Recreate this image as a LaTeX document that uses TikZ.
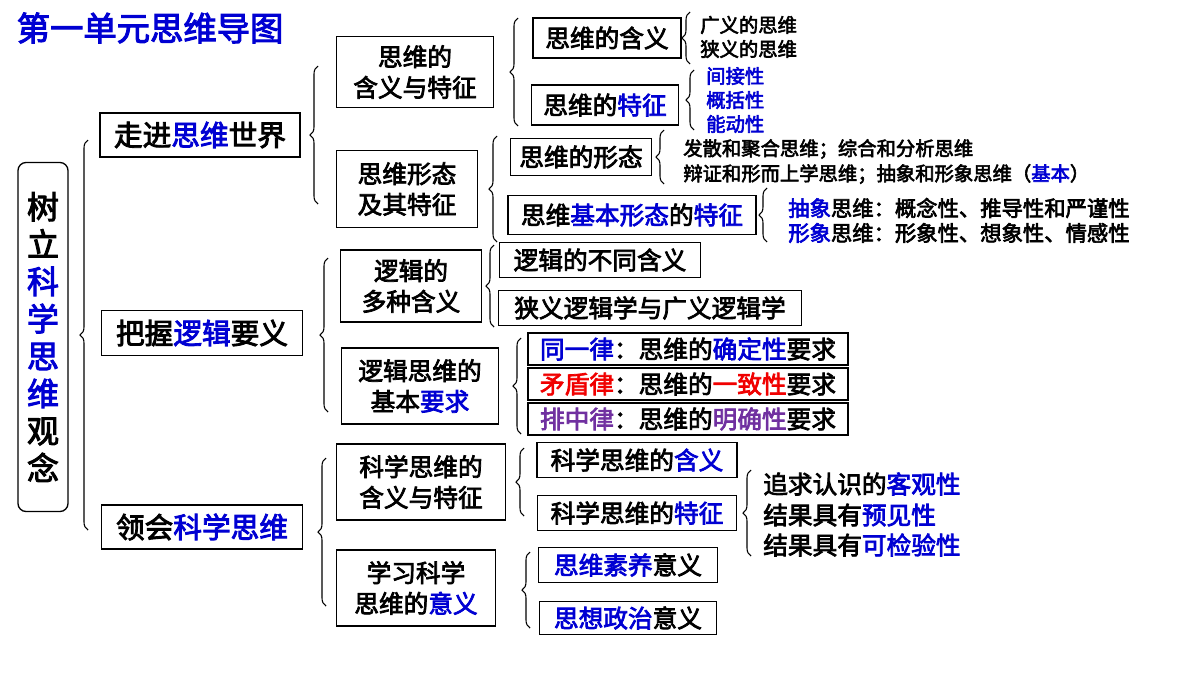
\documentclass[tikz,border=0pt]{standalone}
\usepackage{fontspec}
\setmainfont{Noto Sans CJK SC}[FakeBold=3]
\usetikzlibrary{decorations.pathreplacing}
\definecolor{bl}{RGB}{0,0,210}
\definecolor{pu}{RGB}{112,48,160}
\definecolor{rd}{RGB}{240,0,0}
\newcommand{\B}[1]{\textcolor{bl}{#1}}
\newcommand{\bx}[6]{\node[box,minimum width=#4,minimum height=#5] (#1) at (#2,#3) {#6};}
\newcommand{\brc}[3]{\draw[brc] (#1,#3) -- (#1,#2);}
\begin{document}
\begin{tikzpicture}[x=0.75pt,y=-0.75pt,
  box/.style={draw,line width=1pt,inner sep=0pt,align=center,font=\fontsize{18.5}{23}\selectfont},
  big/.style={font=\fontsize{21.5}{24}\selectfont},
  brc/.style={line width=0.8pt,decorate,decoration={brace,amplitude=6pt}},
  txt/.style={anchor=west,inner sep=0pt}]
\useasboundingbox (0,0) rectangle (1200,675);
\node[anchor=west,text=bl,font=\fontsize{25}{28}\selectfont] (title) at (12,28) {第一单元思维导图};
\node[draw,line width=1pt,rounded corners=6pt,minimum width=50*0.75pt,minimum height=349*0.75pt,inner sep=0pt,align=center,font=\fontsize{24}{28}\selectfont] (root) at (43,337) {树\\立\\\B{科}\\\B{学}\\\B{思}\\\B{维}\\观\\念};
% level 1
\node[box,big,minimum width=150pt,minimum height=33pt] (a) at (200,135) {走进\B{思维}世界};
\node[box,big,minimum width=151pt,minimum height=34pt] (b) at (202,333) {把握\B{逻辑}要义};
\node[box,big,minimum width=151pt,minimum height=33pt] (c) at (202,527) {领会\B{科学思维}};
\brc{88}{140}{530}
% group 1
\bx{a1}{415}{72}{118pt}{53pt}{思维的\\含义与特征}
\bx{a2}{407}{189}{106pt}{58pt}{思维形态\\及其特征}
\brc{318}{66}{204}
\bx{a11}{607}{38}{111pt}{30pt}{思维的含义}
\bx{a12}{605}{105}{110pt}{30pt}{思维的\B{特征}}
\brc{518}{18}{126}
\begin{scope}[every node/.style={txt,font=\fontsize{14.5}{16}\selectfont}]
\node (t1) at (700,25) {广义的思维};
\node (t2) at (700,49) {狭义的思维};
\node[text=bl] (t3) at (706,76) {间接性};
\node[text=bl] (t4) at (706,100) {概括性};
\node[text=bl] (t5) at (706,124) {能动性};
\node (t6) at (683,149) {发散和聚合思维；综合和分析思维};
\node (t7) at (683,174) {辩证和形而上学思维；抽象和形象思维（\B{基本}）};
\end{scope}
\brc{690}{12}{64}
\brc{694}{70}{130}
\bx{a21}{581}{157}{106pt}{28pt}{思维的形态}
\bx{a22}{632}{215}{186pt}{29pt}{思维\B{基本形态}的\B{特征}}
\brc{497}{136}{242}
\brc{664}{130}{184}
\begin{scope}[every node/.style={txt,font=\fontsize{16}{18}\selectfont}]
\node (t8) at (788,208) {\B{抽象}思维：概念性、推导性和严谨性};
\node (t9) at (788,233) {\B{形象}思维：形象性、想象性、情感性};
\end{scope}
\brc{767}{188}{242}
% group 2
\bx{b1}{411}{286}{106pt}{54pt}{逻辑的\\多种含义}
\bx{b2}{420}{386}{118pt}{57pt}{逻辑思维的\\基本\B{要求}}
\brc{328}{258}{412}
\bx{b11}{600}{260}{151pt}{26pt}{逻辑的不同含义}
\bx{b12}{650}{308}{227pt}{26pt}{狭义逻辑学与广义逻辑学}
\brc{494}{245}{327}
\bx{b21}{688}{349}{240pt}{24pt}{\B{同一律}：思维的\B{确定性}要求}
\bx{b22}{688}{384}{240pt}{24pt}{\textcolor{rd}{矛盾律}：思维的\textcolor{rd}{一致性}要求}
\bx{b23}{688}{419}{240pt}{24pt}{\textcolor{pu}{排中律}：思维的\textcolor{pu}{明确性}要求}
\brc{521}{338}{434}
% group 3
\bx{c1}{421}{482}{127pt}{57pt}{科学思维的\\含义与特征}
\bx{c2}{416}{588}{119pt}{57pt}{学习科学\\思维的\B{意义}}
\brc{326}{458}{606}
\bx{c11}{637}{460}{150pt}{26pt}{科学思维的\B{含义}}
\bx{c12}{637}{513}{149pt}{26pt}{科学思维的\B{特征}}
\brc{524}{448}{516}
\begin{scope}[every node/.style={txt,font=\fontsize{18.5}{20}\selectfont}]
\node (u1) at (763,484) {追求认识的\B{客观性}};
\node (u2) at (763,515) {结果具有\B{预见性}};
\node (u3) at (763,545) {结果具有\B{可检验性}};
\end{scope}
\brc{751}{470}{556}
\bx{c21}{628}{565}{134pt}{26pt}{\B{思维素养}意义}
\bx{c22}{628}{618}{133pt}{25pt}{\B{思想政治}意义}
\brc{530}{552}{628}
\end{tikzpicture}
\end{document}
